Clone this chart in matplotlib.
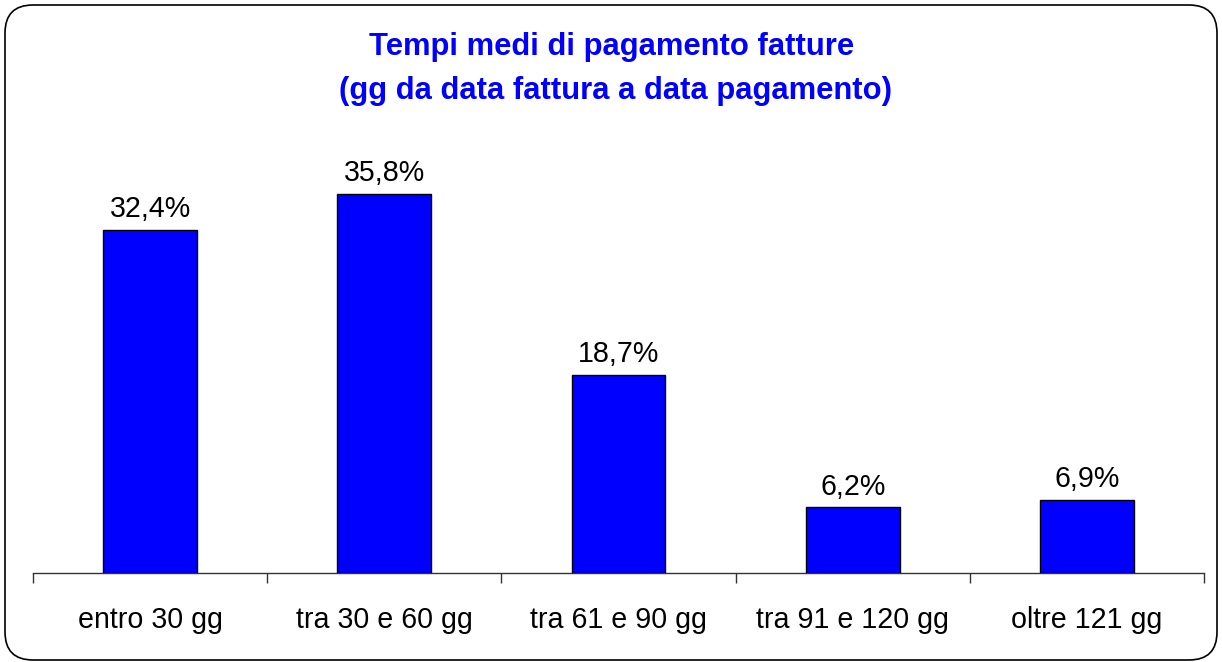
import matplotlib
matplotlib.use("Agg")
import matplotlib.pyplot as plt
from matplotlib.patches import FancyBboxPatch
from matplotlib.transforms import IdentityTransform

categories = ["entro 30 gg", "tra 30 e 60 gg", "tra 61 e 90 gg", "tra 91 e 120 gg", "oltre 121 gg"]
values = [32.4, 35.8, 18.7, 6.2, 6.9]
value_labels = ["32,4%", "35,8%", "18,7%", "6,2%", "6,9%"]
title_lines = ["Tempi medi di pagamento fatture", "(gg da data fattura a data pagamento)"]

plt.rcParams["font.family"] = ["Liberation Sans", "DejaVu Sans"]

W, H = 1222, 662
fig = plt.figure(figsize=(W / 100, H / 100), dpi=100)

# rounded outer frame (pixel coords), no fill so it stays behind nothing
frame = FancyBboxPatch((5, 2), W - 10, H - 7, boxstyle="round,pad=0,rounding_size=28",
                       transform=IdentityTransform(), facecolor="none", edgecolor="black",
                       linewidth=1.2, zorder=0)
fig.patches.append(frame)

ax = fig.add_axes([33 / W, 89 / H, (1204 - 33) / W, 424 / H])
ax.set_facecolor("none")

x = list(range(len(categories)))
ax.bar(x, values, width=0.4, color="#0000FF", edgecolor="black", linewidth=1.0, zorder=3)

for xi, v, lab in zip(x, values, value_labels):
    ax.annotate(lab, (xi, v), xytext=(0, 9), textcoords="offset points",
                ha="center", va="baseline", fontsize=20.6, color="black")

ax.set_xlim(-0.5, len(categories) - 0.5)
ax.set_ylim(0, 40)
for s in ["top", "right", "left"]:
    ax.spines[s].set_visible(False)
ax.spines["bottom"].set_color("#333333")
ax.spines["bottom"].set_linewidth(1.0)
ax.set_yticks([])

# boundary ticks between categories, labels centred on bars
ax.set_xticks([i - 0.5 for i in range(len(categories) + 1)])
ax.set_xticklabels([])
ax.tick_params(axis="x", which="major", length=7, width=1.0, color="#333333", direction="out")
ax.set_xticks(x, minor=True)
ax.set_xticklabels(categories, minor=True, fontsize=20.6)
ax.tick_params(axis="x", which="minor", length=0, pad=24)

fig.text(612 / W, 1 - 55 / H, title_lines[0], ha="center", va="baseline",
         fontsize=22.3, fontweight="bold", color="#0000FF")
fig.text(615 / W, 1 - 99 / H, title_lines[1], ha="center", va="baseline",
         fontsize=22.3, fontweight="bold", color="#0000FF")

fig.savefig("out.png", dpi=100)
